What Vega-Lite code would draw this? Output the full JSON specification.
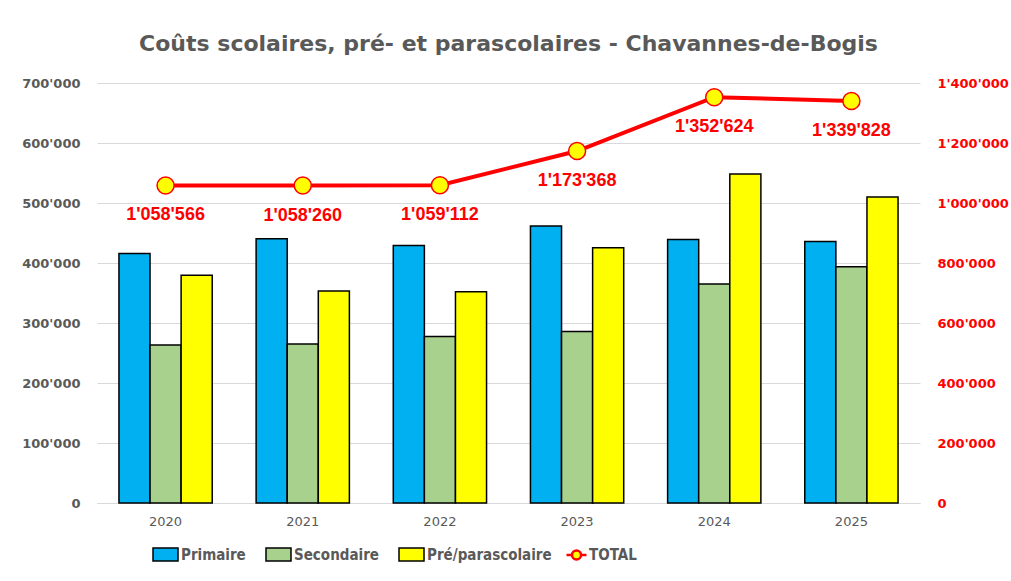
{
  "$schema": "https://vega.github.io/schema/vega-lite/v6.json",
  "autosize": {"type": "none"},
  "padding": {"left": 97, "top": 83, "right": 91, "bottom": 78},
  "width": 823,
  "height": 420,
  "background": "white",
  "config": {
    "view": {"stroke": null},
    "locale": {"number": {"decimal": ".", "thousands": "'", "grouping": [3], "currency": ["", ""]}},
    "font": "DejaVu Sans"
  },
  "title": {
    "text": "Coûts scolaires, pré- et parascolaires - Chavannes-de-Bogis",
    "fontSize": 22,
    "fontWeight": "bold",
    "color": "#595959",
    "font": "DejaVu Sans",
    "anchor": "middle",
    "offset": 21
  },
  "datasets": {
    "bars": [
      {"annee": "2020", "serie": "Primaire", "montant": 415700},
      {"annee": "2020", "serie": "Secondaire", "montant": 263500},
      {"annee": "2020", "serie": "Pré/parascolaire", "montant": 379400},
      {"annee": "2021", "serie": "Primaire", "montant": 440300},
      {"annee": "2021", "serie": "Secondaire", "montant": 264800},
      {"annee": "2021", "serie": "Pré/parascolaire", "montant": 353200},
      {"annee": "2022", "serie": "Primaire", "montant": 429300},
      {"annee": "2022", "serie": "Secondaire", "montant": 277600},
      {"annee": "2022", "serie": "Pré/parascolaire", "montant": 352200},
      {"annee": "2023", "serie": "Primaire", "montant": 461800},
      {"annee": "2023", "serie": "Secondaire", "montant": 286000},
      {"annee": "2023", "serie": "Pré/parascolaire", "montant": 425600},
      {"annee": "2024", "serie": "Primaire", "montant": 439000},
      {"annee": "2024", "serie": "Secondaire", "montant": 365200},
      {"annee": "2024", "serie": "Pré/parascolaire", "montant": 548400},
      {"annee": "2025", "serie": "Primaire", "montant": 436000},
      {"annee": "2025", "serie": "Secondaire", "montant": 393600},
      {"annee": "2025", "serie": "Pré/parascolaire", "montant": 510200}
    ],
    "totals": [
      {"annee": "2020", "total": 1058566},
      {"annee": "2021", "total": 1058260},
      {"annee": "2022", "total": 1059112},
      {"annee": "2023", "total": 1173368},
      {"annee": "2024", "total": 1352624},
      {"annee": "2025", "total": 1339828}
    ]
  },
  "layer": [
    {
      "data": {"name": "bars"},
      "mark": {"type": "bar", "stroke": "black", "strokeWidth": 1.5},
      "encoding": {
        "x": {
          "field": "annee", "type": "nominal",
          "scale": {"paddingInner": 0.32, "paddingOuter": 0.16},
          "axis": {"title": null, "labelAngle": 0, "ticks": false, "domain": true, "domainColor": "#D9D9D9", "labelPadding": 12, "labelFontSize": 13, "labelColor": "#595959", "labelFont": "DejaVu Sans"}
        },
        "xOffset": {
          "field": "serie", "type": "nominal",
          "sort": ["Primaire", "Secondaire", "Pré/parascolaire"],
          "scale": {"paddingInner": 0, "paddingOuter": 0}
        },
        "y": {
          "field": "montant", "type": "quantitative",
          "scale": {"domain": [0, 700000], "nice": false},
          "axis": {
            "title": null, "values": [0, 100000, 200000, 300000, 400000, 500000, 600000, 700000],
            "format": ",d", "ticks": false, "domain": false, "grid": true, "gridColor": "#D9D9D9", "gridWidth": 1,
            "labelPadding": 17, "labelFontSize": 13, "labelFontWeight": "bold", "labelColor": "#595959", "labelFont": "DejaVu Sans"
          }
        },
        "color": {
          "field": "serie", "type": "nominal",
          "scale": {"domain": ["Primaire", "Secondaire", "Pré/parascolaire"], "range": ["#00B0F0", "#A9D18E", "#FFFF00"]},
          "legend": {
            "title": null,
            "orient": "none",
            "direction": "horizontal",
            "legendX": 55,
            "legendY": 458,
            "columnPadding": 17,
            "labelOffset": 2,
            "labelFontSize": 15,
            "labelFontWeight": "bold",
            "labelColor": "#595959",
            "labelFont": "DejaVu Sans Condensed, Liberation Sans",
            "symbolSize": 625,
            "symbolStrokeWidth": 1.5,
            "symbolType": "M-1,-0.52H1V0.52H-1Z"
          }
        }
      }
    },
    {
      "data": {"name": "totals"},
      "encoding": {
        "x": {"field": "annee", "type": "nominal"},
        "y": {
          "field": "total", "type": "quantitative",
          "scale": {"domain": [0, 1400000], "nice": false},
          "axis": {
            "orient": "right", "title": null,
            "values": [0, 200000, 400000, 600000, 800000, 1000000, 1200000, 1400000],
            "format": ",d", "ticks": false, "domain": false, "grid": false,
            "labelPadding": 17, "labelFontSize": 13, "labelFontWeight": "bold", "labelColor": "#FF0000", "labelFont": "DejaVu Sans"
          }
        }
      },
      "layer": [
        {"mark": {"type": "line", "color": "#FF0000", "strokeWidth": 4}},
        {"mark": {"type": "point", "shape": "circle", "filled": true, "fill": "#FFFF00", "stroke": "#FF0000", "strokeWidth": 1.5, "size": 290, "opacity": 1}},
        {
          "mark": {"type": "point", "opacity": 0},
          "encoding": {
            "shape": {
              "datum": "TOTAL",
              "scale": {"range": ["M-1,0H-0.45M0.45,0H1M-0.45,0A0.45,0.45 0 1,0 0.45,0A0.45,0.45 0 1,0 -0.45,0Z"]},
              "legend": {
                "title": null, "orient": "none", "direction": "horizontal",
                "legendX": 468, "legendY": 460.5, "labelOffset": 1,
                "labelFontSize": 15, "labelFontWeight": "bold", "labelColor": "#595959",
                "labelFont": "DejaVu Sans Condensed, Liberation Sans",
                "symbolSize": 400, "symbolOpacity": 1, "symbolStrokeWidth": 2.5
              }
            },
            "fill": {
              "datum": "TOTAL",
              "scale": {"range": ["#FFFF00"]},
              "legend": {
                "title": null, "orient": "none", "direction": "horizontal",
                "legendX": 468, "legendY": 460.5, "labelOffset": 1,
                "labelFontSize": 15, "labelFontWeight": "bold", "labelColor": "#595959",
                "labelFont": "DejaVu Sans Condensed, Liberation Sans",
                "symbolSize": 400, "symbolOpacity": 1, "symbolStrokeWidth": 2.5
              }
            },
            "stroke": {
              "datum": "TOTAL",
              "scale": {"range": ["#FF0000"]},
              "legend": {
                "title": null, "orient": "none", "direction": "horizontal",
                "legendX": 468, "legendY": 460.5, "labelOffset": 1,
                "labelFontSize": 15, "labelFontWeight": "bold", "labelColor": "#595959",
                "labelFont": "DejaVu Sans Condensed, Liberation Sans",
                "symbolSize": 400, "symbolOpacity": 1, "symbolStrokeWidth": 2.5
              }
            }
          }
        },
        {
          "mark": {"type": "text", "color": "#FF0000", "fontWeight": "bold", "fontSize": 18, "dy": 30, "font": "Liberation Sans"},
          "encoding": {"text": {"field": "total", "type": "quantitative", "format": ",d"}}
        }
      ]
    }
  ],
  "resolve": {"scale": {"y": "independent"}}
}
